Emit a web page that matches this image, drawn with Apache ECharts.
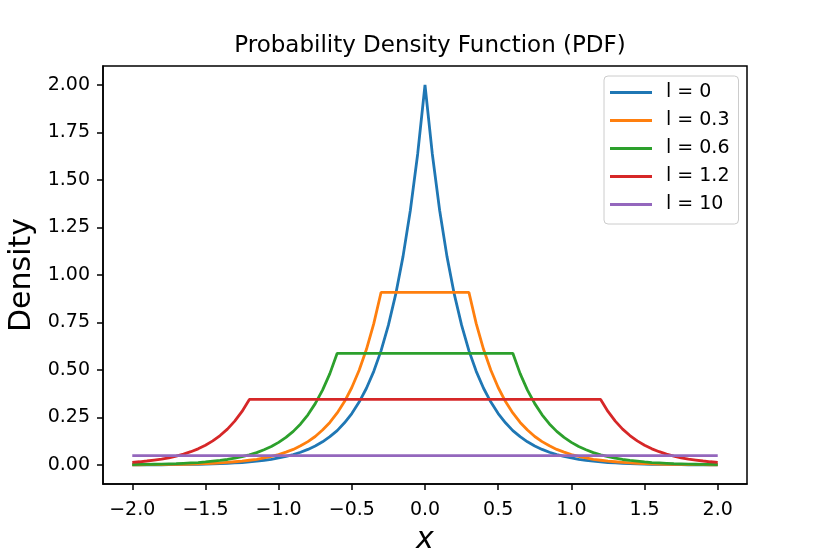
<!DOCTYPE html>
<html>
<head>
<meta charset="utf-8">
<script src="https://cdn.jsdelivr.net/npm/echarts@6/dist/echarts.min.js"></script>
<style>
html, body { margin: 0; padding: 0; background: #fff; }
#main { width: 830px; height: 554px; }
</style>
</head>
<body>
<div id="main"></div>
<script>
// x samples shared by all curves
var xs = [-2.0,-1.95,-1.9,-1.85,-1.8,-1.75,-1.7,-1.65,-1.6,-1.55,-1.5,-1.45,-1.4,-1.35,-1.3,-1.25,-1.2,-1.15,-1.1,-1.05,
    -1.0,-0.95,-0.9,-0.85,-0.8,-0.75,-0.7,-0.65,-0.6,-0.55,-0.5,-0.45,-0.4,-0.35,-0.3,-0.25,-0.2,-0.15,-0.1,-0.05,
    0.0,0.05,0.1,0.15,0.2,0.25,0.3,0.35,0.4,0.45,0.5,0.55,0.6,0.65,0.7,0.75,0.8,0.85,0.9,0.95,
    1.0,1.05,1.1,1.15,1.2,1.25,1.3,1.35,1.4,1.45,1.5,1.55,1.6,1.65,1.7,1.75,1.8,1.85,1.9,1.95,2.0];

var names = ['l = 0', 'l = 0.3', 'l = 0.6', 'l = 1.2', 'l = 10'];
var colors = ['#1f77b4', '#ff7f0e', '#2ca02c', '#d62728', '#9467bd'];

var yL0 = [0.001,0.001,0.001,0.001,0.001,0.002,0.002,0.003,0.003,0.004,0.005,0.006,0.007,0.009,0.011,0.013,0.016,0.020,0.025,0.030,
    0.037,0.045,0.055,0.067,0.082,0.100,0.122,0.149,0.181,0.222,0.271,0.331,0.404,0.493,0.602,0.736,0.899,1.098,1.341,1.637,
    2.000,1.637,1.341,1.098,0.899,0.736,0.602,0.493,0.404,0.331,0.271,0.222,0.181,0.149,0.122,0.100,0.082,0.067,0.055,0.045,
    0.037,0.030,0.025,0.020,0.016,0.013,0.011,0.009,0.007,0.006,0.005,0.004,0.003,0.003,0.002,0.002,0.001,0.001,0.001,0.001,0.001];

var yL03 = [0.001,0.001,0.002,0.002,0.002,0.003,0.003,0.004,0.005,0.006,0.007,0.009,0.011,0.014,0.017,0.020,0.025,0.030,0.037,0.045,
    0.055,0.068,0.082,0.101,0.123,0.150,0.184,0.224,0.274,0.334,0.408,0.499,0.609,0.744,0.909,0.909,0.909,0.909,0.909,0.909,
    0.909,0.909,0.909,0.909,0.909,0.909,0.909,0.744,0.609,0.499,0.408,0.334,0.274,0.224,0.184,0.150,0.123,0.101,0.082,0.068,
    0.055,0.045,0.037,0.030,0.025,0.020,0.017,0.014,0.011,0.009,0.007,0.006,0.005,0.004,0.003,0.003,0.002,0.002,0.002,0.001,0.001];

var yL06 = [0.002,0.003,0.003,0.004,0.005,0.006,0.007,0.009,0.011,0.013,0.016,0.020,0.024,0.029,0.036,0.044,0.053,0.065,0.080,0.097,
    0.119,0.145,0.177,0.216,0.264,0.323,0.394,0.481,0.588,0.588,0.588,0.588,0.588,0.588,0.588,0.588,0.588,0.588,0.588,0.588,
    0.588,0.588,0.588,0.588,0.588,0.588,0.588,0.588,0.588,0.588,0.588,0.588,0.588,0.481,0.394,0.323,0.264,0.216,0.177,0.145,
    0.119,0.097,0.080,0.065,0.053,0.044,0.036,0.029,0.024,0.020,0.016,0.013,0.011,0.009,0.007,0.006,0.005,0.004,0.003,0.003,0.002];

var yL12 = [0.014,0.017,0.021,0.026,0.031,0.038,0.047,0.057,0.070,0.085,0.104,0.127,0.155,0.189,0.231,0.282,0.345,0.345,0.345,0.345,
    0.345,0.345,0.345,0.345,0.345,0.345,0.345,0.345,0.345,0.345,0.345,0.345,0.345,0.345,0.345,0.345,0.345,0.345,0.345,0.345,
    0.345,0.345,0.345,0.345,0.345,0.345,0.345,0.345,0.345,0.345,0.345,0.345,0.345,0.345,0.345,0.345,0.345,0.345,0.345,0.345,
    0.345,0.345,0.345,0.345,0.345,0.282,0.231,0.189,0.155,0.127,0.104,0.085,0.070,0.057,0.047,0.038,0.031,0.026,0.021,0.017,0.014];

var yL10 = [0.049,0.049,0.049,0.049,0.049,0.049,0.049,0.049,0.049,0.049,0.049,0.049,0.049,0.049,0.049,0.049,0.049,0.049,0.049,0.049,
    0.049,0.049,0.049,0.049,0.049,0.049,0.049,0.049,0.049,0.049,0.049,0.049,0.049,0.049,0.049,0.049,0.049,0.049,0.049,0.049,
    0.049,0.049,0.049,0.049,0.049,0.049,0.049,0.049,0.049,0.049,0.049,0.049,0.049,0.049,0.049,0.049,0.049,0.049,0.049,0.049,
    0.049,0.049,0.049,0.049,0.049,0.049,0.049,0.049,0.049,0.049,0.049,0.049,0.049,0.049,0.049,0.049,0.049,0.049,0.049,0.049,0.049];

var xTicks = [-2.0, -1.5, -1.0, -0.5, 0.0, 0.5, 1.0, 1.5, 2.0];
var yTicks = [0.0, 0.25, 0.5, 0.75, 1.0, 1.25, 1.5, 1.75, 2.0];

var FONT = 'DejaVu Sans';

function minus(s) {
    return s.replace('-', '\u2212');
}

var allY = [yL0, yL03, yL06, yL12, yL10];
var series = [];
for (var i = 0; i < allY.length; i++) {
    var pts = [];
    for (var j = 0; j < xs.length; j++) {
        pts.push([xs[j], allY[i][j]]);
    }
    series.push({
        name: names[i],
        type: 'line',
        data: pts,
        symbol: 'none',
        smooth: false,
        color: colors[i],
        lineStyle: { width: 2.8, color: colors[i] }
    });
}

var chart = echarts.init(document.getElementById('main'));
chart.setOption({
    animation: false,
    backgroundColor: '#fff',
    title: {
        text: 'Probability Density Function (PDF)',
        left: 425,
        textAlign: 'center',
        top: 30,
        textStyle: { fontFamily: FONT, fontSize: 23, fontWeight: 'normal', color: '#000' }
    },
    grid: {
        left: 103, right: 83, top: 66, bottom: 70,
        outerBoundsMode: 'none',
        show: true, borderColor: '#000', borderWidth: 1.5
    },
    legend: {
        orient: 'vertical',
        left: 604, top: 76,
        padding: [7, 9, 10, 6],
        icon: 'rect',
        itemWidth: 42, itemHeight: 3, itemGap: 9,
        backgroundColor: 'rgba(255,255,255,0.8)',
        borderColor: '#cccccc', borderWidth: 1, borderRadius: 4,
        data: names,
        textStyle: { fontFamily: FONT, fontSize: 19, lineHeight: 19, color: '#000', padding: [0, 0, 0, 9] }
    },
    xAxis: {
        type: 'value', min: -2.2, max: 2.2,
        name: 'x', nameLocation: 'middle', nameGap: 36,
        nameTextStyle: { fontFamily: FONT, fontSize: 30, fontStyle: 'italic', color: '#000' },
        axisLine: { onZero: false, lineStyle: { color: '#000', width: 1.5 } },
        axisTick: { customValues: xTicks, length: 6, lineStyle: { color: '#000', width: 1.5 } },
        axisLabel: {
            customValues: xTicks, margin: 17, color: '#000', fontFamily: FONT, fontSize: 19,
            formatter: function (v) { return minus(v.toFixed(1)); }
        },
        splitLine: { show: false }
    },
    yAxis: {
        type: 'value', min: -0.1, max: 2.1,
        name: 'Density', nameLocation: 'middle', nameGap: 65, nameRotate: 90,
        nameTextStyle: { fontFamily: FONT, fontSize: 30, color: '#000' },
        axisLine: { onZero: false, lineStyle: { color: '#000', width: 1.5 } },
        axisTick: { customValues: yTicks, length: 6, lineStyle: { color: '#000', width: 1.5 } },
        axisLabel: {
            customValues: yTicks, margin: 13, color: '#000', fontFamily: FONT, fontSize: 19,
            formatter: function (v) { return v.toFixed(2); }
        },
        splitLine: { show: false }
    },
    series: series
});
</script>
</body>
</html>
